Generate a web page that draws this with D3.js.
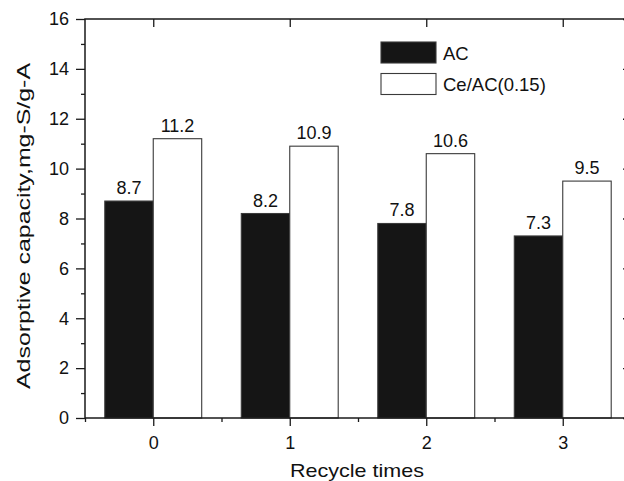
<!DOCTYPE html>
<html>
<head>
<meta charset="utf-8">
<script src="https://cdn.jsdelivr.net/npm/d3@7"></script>
<style>
  html, body { margin: 0; padding: 0; background: #fff; }
  svg text { font-family: "Liberation Sans", Arial, Helvetica, sans-serif; fill: #111; }
</style>
</head>
<body>
<svg id="chart" width="624" height="481"></svg>
<script>
// Recycle runs and adsorptive capacity per sorbent
const cycles = ["0", "1", "2", "3"];
const seriesNames = ["AC", "Ce/AC(0.15)"];
const acValues = [8.7, 8.2, 7.8, 7.3];
const ceValues = [11.2, 10.9, 10.6, 9.5];
const yTicks = [0, 2, 4, 6, 8, 10, 12, 14, 16];

const fills = ["#151515", "#ffffff"];
const ink = "#1a1a1a";

const svg = d3.select("#chart");
const plotLeft = 85, plotRight = 631, plotTop = 19, plotBottom = 418;

// numeric x positions so the frame spans half a step beyond each end
const x = d3.scaleLinear().domain([-0.5, 3.5]).range([plotLeft, plotRight]);
const y = d3.scaleLinear().domain([0, 16]).range([plotBottom, plotTop]);
const step = x(1) - x(0);
const barW = step * 0.355;

const series = [acValues, ceValues];

// bars
series.forEach((vals, s) => {
  svg.append("g").selectAll("rect")
    .data(vals)
    .join("rect")
    .attr("x", (d, i) => s === 0 ? x(i) - barW : x(i))
    .attr("y", d => y(d))
    .attr("width", barW)
    .attr("height", d => y(0) - y(d))
    .attr("fill", fills[s])
    .attr("stroke", "#3a3a3a")
    .attr("stroke-width", 1.1);

  svg.append("g").selectAll("text")
    .data(vals)
    .join("text")
    .attr("x", (d, i) => (s === 0 ? x(i) - barW : x(i)) + barW / 2)
    .attr("y", d => y(d) - 7)
    .attr("text-anchor", "middle")
    .attr("font-size", 18)
    .text(d => d.toFixed(1));
});

// axes
const tickStyle = g => {
  g.select(".domain").remove();
  g.selectAll("line").attr("stroke", ink).attr("stroke-width", 1.3);
  g.selectAll("text").attr("font-size", 18).attr("fill", "#111")
    .style("font-family", '"Liberation Sans", Arial, sans-serif');
};

// left: major labelled ticks, minor ticks between
svg.append("g").attr("transform", `translate(${plotLeft},0)`)
  .call(d3.axisLeft(y).tickValues(yTicks).tickSize(9).tickPadding(7).tickFormat(d3.format("d")))
  .call(tickStyle);
svg.append("g").attr("transform", `translate(${plotLeft},0)`)
  .call(d3.axisLeft(y).tickValues(d3.range(1, 16, 2)).tickSize(4).tickFormat(""))
  .call(tickStyle);

// right: major ticks pointing inward
svg.append("g").attr("transform", `translate(${plotRight},0)`)
  .call(d3.axisRight(y).tickValues(yTicks).tickSize(-8).tickFormat(""))
  .call(tickStyle);

// bottom: category ticks with labels, minor ticks at bar-group edges
svg.append("g").attr("transform", `translate(0,${plotBottom})`)
  .call(d3.axisBottom(x).tickValues([0, 1, 2, 3]).tickSize(8).tickPadding(10)
    .tickFormat((d, i) => cycles[i]))
  .call(tickStyle);
svg.append("g").attr("transform", `translate(0,${plotBottom})`)
  .call(d3.axisBottom(x).tickValues([-0.5, 0.5, 1.5, 2.5, 3.5]).tickSize(4).tickFormat(""))
  .call(tickStyle);

// top: category ticks pointing inward
svg.append("g").attr("transform", `translate(0,${plotTop})`)
  .call(d3.axisTop(x).tickValues([0, 1, 2, 3]).tickSize(-8).tickFormat(""))
  .call(tickStyle);

// frame
svg.append("rect")
  .attr("x", plotLeft).attr("y", plotTop)
  .attr("width", plotRight - plotLeft).attr("height", plotBottom - plotTop)
  .attr("fill", "none").attr("stroke", ink).attr("stroke-width", 1.5);

// legend
const legend = svg.append("g").attr("transform", "translate(381,42)");
seriesNames.forEach((name, i) => {
  const g = legend.append("g").attr("transform", `translate(0,${i * 31.5})`);
  g.append("rect").attr("width", 55).attr("height", 21)
    .attr("fill", fills[i]).attr("stroke", "#3a3a3a").attr("stroke-width", 1.1);
  g.append("text").attr("x", 62).attr("y", 17.5).attr("font-size", 18.5).text(name);
});

// axis titles (slightly widened lettering)
svg.append("text")
  .attr("x", 357).attr("y", 477)
  .attr("text-anchor", "middle")
  .attr("font-size", 19)
  .attr("textLength", 134)
  .attr("lengthAdjust", "spacingAndGlyphs")
  .text("Recycle times");

svg.append("text")
  .attr("transform", "translate(30,226) rotate(-90)")
  .attr("text-anchor", "middle")
  .attr("font-size", 19)
  .attr("textLength", 326)
  .attr("lengthAdjust", "spacingAndGlyphs")
  .text("Adsorptive capacity,mg-S/g-A");
</script>
</body>
</html>
